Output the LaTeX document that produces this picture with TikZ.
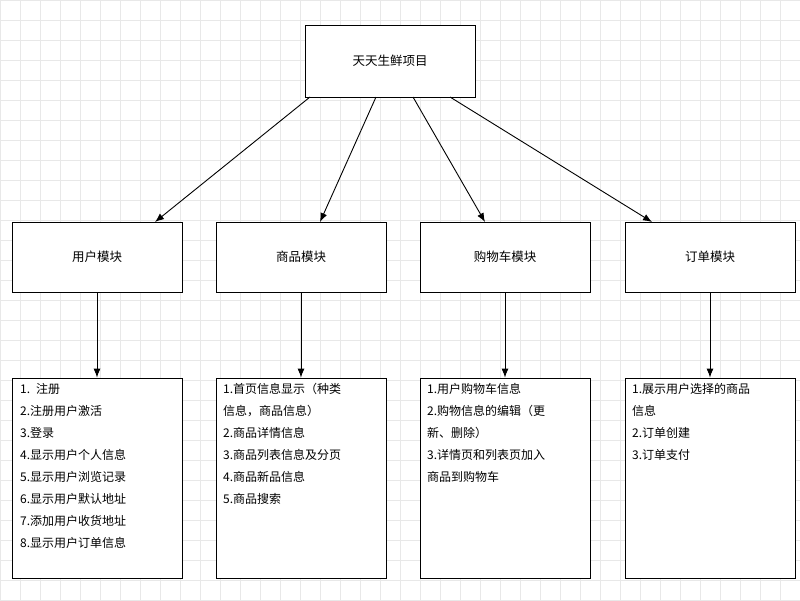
\documentclass[tikz,border=0pt]{standalone}
\usepackage{fontspec}
\setmainfont{Noto Sans CJK SC}
\usetikzlibrary{arrows.meta}
\begin{document}
\begin{tikzpicture}[x=1pt,y=-1pt,
  box/.style={draw=black,line width=0.8pt,fill=white,inner sep=0pt},
  arr/.style={-{Latex[length=9pt,width=7pt]},line width=0.9pt},
  lbl/.style={font=\fontsize{12.5}{14}\selectfont},
  det/.style={font=\fontsize{12}{22}\selectfont,align=left,anchor=north west,text width=160pt,inner sep=0pt}]
\useasboundingbox (0,0) rectangle (800,600);
\fill[white] (0,0) rectangle (800,600);
\foreach \k in {0,20,...,800}{\draw[black!9,line width=0.4pt] (\k,0) -- (\k,600);}
\foreach \k in {0,20,...,600}{\draw[black!9,line width=0.4pt] (0,\k) -- (800,\k);}
% top
\node[box,minimum width=170pt,minimum height=72pt,lbl] (top) at (390,61) {天天生鲜项目};
% modules
\foreach \n/\x/\t in {m1/97/用户模块,m2/301/商品模块,m3/505/购物车模块,m4/710/订单模块}{
  \node[box,minimum width=170pt,minimum height=70pt,lbl] (\n) at (\x,257) {\t};
}
\foreach \n/\x in {d1/97,d2/301,d3/505,d4/710}{
  \node[box,minimum width=170pt,minimum height=200pt] (\n) at (\x,478) {};
}
\coordinate (s1) at (310,97); \coordinate (s2) at (376,97);
\coordinate (s3) at (413,97); \coordinate (s4) at (450,97);
\coordinate (e1) at (155,222); \coordinate (e2) at (320,222);
\coordinate (e3) at (485,222); \coordinate (e4) at (652,222);
\foreach \i in {1,2,3,4}{\draw[arr] (s\i) -- (e\i);}
\foreach \i in {1,2,3,4}{\draw[arr] (m\i.south) -- (d\i.north);}
\node[det] at (20,383) {1. 注册\\2.注册用户激活\\3.登录\\4.显示用户个人信息\\5.显示用户浏览记录\\6.显示用户默认地址\\7.添加用户收货地址\\8.显示用户订单信息};
\node[det] at (223,383) {1.首页信息显示（种类\\信息，商品信息）\\2.商品详情信息\\3.商品列表信息及分页\\4.商品新品信息\\5.商品搜索};
\node[det] at (427,383) {1.用户购物车信息\\2.购物信息的编辑（更\\新、删除）\\3.详情页和列表页加入\\商品到购物车};
\node[det] at (632,383) {1.展示用户选择的商品\\信息\\2.订单创建\\3.订单支付};
\end{tikzpicture}
\end{document}
